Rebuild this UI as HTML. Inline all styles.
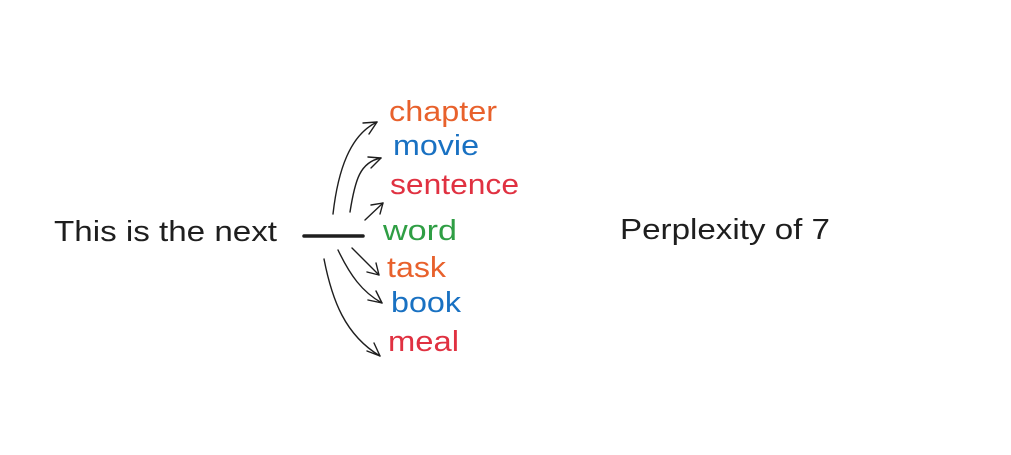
<!DOCTYPE html>
<html><head><style>html,body{margin:0;padding:0;background:#fff;}svg{display:block}</style></head>
<body>
<svg width="1011" height="455" viewBox="0 0 1011 455" xmlns="http://www.w3.org/2000/svg" font-family="Liberation Sans, sans-serif" font-size="29">
<rect width="1011" height="455" fill="#fff"/>
<text x="54" y="241" fill="#1e1e1e" textLength="223" lengthAdjust="spacingAndGlyphs">This is the next</text>
<text x="620" y="239" fill="#1e1e1e" textLength="210" lengthAdjust="spacingAndGlyphs">Perplexity of 7</text>
<text x="389" y="121" fill="#e8612c" textLength="108" lengthAdjust="spacingAndGlyphs">chapter</text>
<text x="393" y="155" fill="#1971c2" textLength="86" lengthAdjust="spacingAndGlyphs">movie</text>
<text x="390" y="194" fill="#e03141" textLength="129" lengthAdjust="spacingAndGlyphs">sentence</text>
<text x="383" y="240" fill="#2f9e44" textLength="74" lengthAdjust="spacingAndGlyphs">word</text>
<text x="387" y="277" fill="#e8612c" textLength="59" lengthAdjust="spacingAndGlyphs">task</text>
<text x="391" y="312" fill="#1971c2" textLength="70" lengthAdjust="spacingAndGlyphs">book</text>
<text x="388" y="351" fill="#e03141" textLength="71" lengthAdjust="spacingAndGlyphs">meal</text>
<line x1="304" y1="236" x2="363" y2="236" stroke="#1e1e1e" stroke-width="3.5" stroke-linecap="round"/>
<g fill="none" stroke="#1e1e1e" stroke-width="1.4" stroke-linecap="round">
<path d="M333 214 C338 170 350 135 377 122"/><path d="M377 122 L363 123 M377 122 L369 134"/>
<path d="M350 212 C355 180 360 162 381 158"/><path d="M381 158 L368 157 M381 158 L371 168"/>
<path d="M365 220 L383 203"/><path d="M383 203 L371 205 M383 203 L380 214"/>
<path d="M352 248 L379 275"/><path d="M379 275 L367 272 M379 275 L376 263"/>
<path d="M338 250 C350 275 362 292 382 303"/><path d="M382 303 L368 300 M382 303 L376 291"/>
<path d="M324 259 C332 300 345 335 380 356"/><path d="M380 356 L367 351 M380 356 L374 343"/>
</g>
</svg>
</body></html>
